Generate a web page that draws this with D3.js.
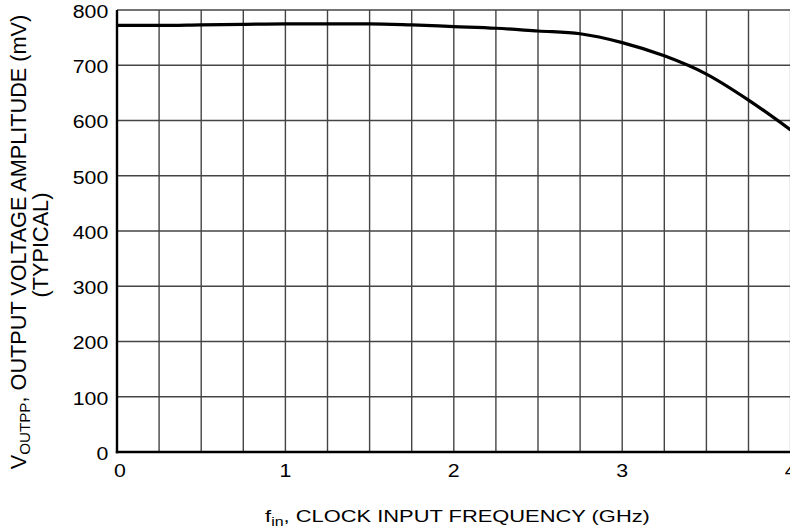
<!DOCTYPE html>
<html><head><meta charset="utf-8">
<script src="https://cdn.jsdelivr.net/npm/d3@7"></script>
<style>
html,body{margin:0;padding:0;background:#fff;}
svg text{font-family:"Liberation Sans",Arial,Helvetica,sans-serif;fill:#000;}
</style></head>
<body>
<svg id="chart" width="790" height="527"></svg>
<script>
const freqGHz = [0, 0.25, 0.5, 0.75, 1.0, 1.25, 1.5, 1.75, 2.0, 2.25, 2.5, 2.75, 3.0, 3.25, 3.5, 3.75, 4.0];
const amplitudeMV = [772, 772, 773, 774, 775, 775, 775, 773, 770, 767, 762, 757, 741, 717, 684, 637, 583];
const xTickValues = [0, 1, 2, 3, 4];
const yTickValues = [0, 100, 200, 300, 400, 500, 600, 700, 800];
const xGridValues = d3.range(0, 4.0001, 0.25);

const svg = d3.select("#chart");
const m = {left:117, top:10, right:790, bottom:452};
const x = d3.scaleLinear().domain([0,4]).range([m.left, m.right + 0.6]);
const y = d3.scaleLinear().domain([0,800]).range([m.bottom, m.top]);

// grid
svg.append("g").selectAll("line").data(xGridValues.filter(d=>d>0)).join("line")
  .attr("x1", d=>x(d)).attr("x2", d=>x(d)).attr("y1", y(0)).attr("y2", y(800))
  .attr("stroke", "#444").attr("stroke-width", 1.4);
svg.append("g").selectAll("line").data(yTickValues.filter(d=>d>0)).join("line")
  .attr("x1", x(0)).attr("x2", x(4)).attr("y1", d=>y(d)).attr("y2", d=>y(d))
  .attr("stroke", "#444").attr("stroke-width", 1.4);

// axes lines
svg.append("line").attr("x1", x(0)).attr("x2", x(0)).attr("y1", y(0)+1.2).attr("y2", y(800))
  .attr("stroke", "#000").attr("stroke-width", 2.4);
svg.append("line").attr("x1", x(0)-1.2).attr("x2", x(4)).attr("y1", y(0)).attr("y2", y(0))
  .attr("stroke", "#000").attr("stroke-width", 2.4);

// curve
const line = d3.line().x((d,i)=>x(freqGHz[i])).y(d=>y(d)).curve(d3.curveMonotoneX);
svg.append("path").datum(amplitudeMV).attr("d", line)
  .attr("fill", "none").attr("stroke", "#000").attr("stroke-width", 3.2).attr("stroke-linejoin","round");

// helper: a text group stretched along its reading direction
function stretched(tx, ty, rot, fontSize, anchor, targetLen, sy, build) {
  const g = svg.append("g");
  const t = g.append("text").attr("font-size", fontSize).attr("text-anchor", anchor);
  build(t);
  const w = t.node().getComputedTextLength();
  const sx = targetLen ? targetLen / w : 1;
  g.attr("transform", `translate(${tx},${ty}) rotate(${rot}) scale(${sx},${sy})`);
  return sx;
}

// tick label stretch factor from a sample label
const tickFont = 18.5;
const probe = svg.append("text").attr("font-size", tickFont).text("300");
const tickSx = 35.6 / probe.node().getComputedTextLength();
probe.remove();

yTickValues.forEach(d => {
  stretched(108.3, y(d), 0, tickFont, "end", null, 1, t => t.attr("dy", "0.43em").text(d));
});
svg.selectAll("g").filter(function(){ return this.getAttribute("transform") && this.getAttribute("transform").includes("scale(1,1)"); })
  .attr("transform", function(){ return this.getAttribute("transform").replace("scale(1,1)", `scale(${tickSx},1)`); });

xTickValues.forEach(d => {
  stretched(x(d) + (d === 0 ? 3 : 0), 477.3, 0, tickFont, "middle", null, 1, t => t.text(d));
});
svg.selectAll("g").filter(function(){ return this.getAttribute("transform") && this.getAttribute("transform").includes("scale(1,1)"); })
  .attr("transform", function(){ return this.getAttribute("transform").replace("scale(1,1)", `scale(${tickSx},1)`); });

// x title
stretched(457.5, 521.5, 0, 16.5, "middle", 385, 1, t => {
  t.append("tspan").text("f");
  t.append("tspan").attr("font-size", 12).attr("dy", 4).text("in");
  t.append("tspan").attr("dy", -4).text(", CLOCK INPUT FREQUENCY (GHz)");
});

// y title
const ySx = stretched(26, 242, -90, 20, "middle", 455, 1.08, t => {
  t.append("tspan").text("V");
  t.append("tspan").attr("font-size", 14).attr("dy", 4).text("OUTPP");
  t.append("tspan").attr("dy", -4).text(", OUTPUT VOLTAGE AMPLITUDE (mV)");
});
const g2 = svg.append("g").attr("transform", `translate(47.5,245) rotate(-90) scale(${ySx},1.08)`);
g2.append("text").attr("font-size", 20).attr("text-anchor", "middle").text("(TYPICAL)");
</script>
</body></html>
